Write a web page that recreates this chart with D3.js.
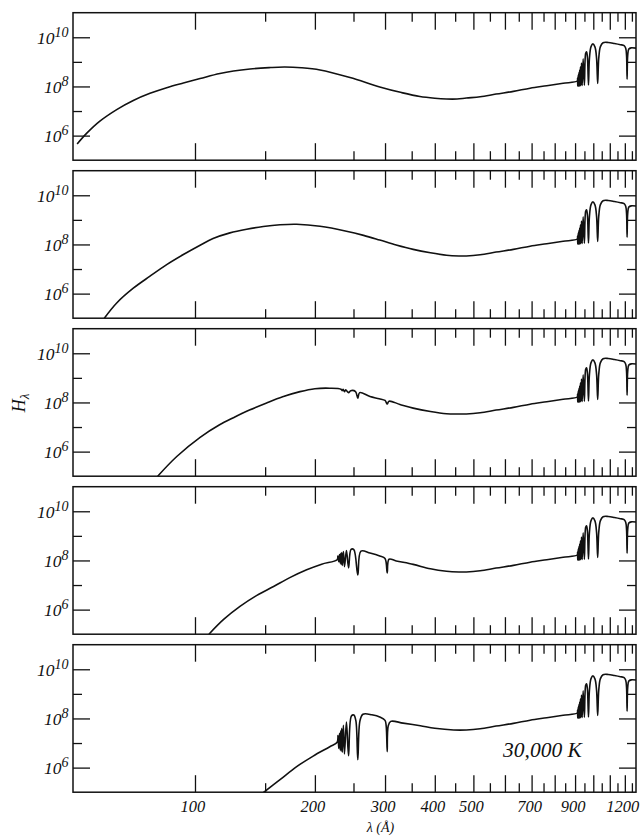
<!DOCTYPE html>
<html>
<head>
<meta charset="utf-8">
<script src="https://cdn.jsdelivr.net/npm/d3@7"></script>
<style>
  html, body { margin: 0; padding: 0; background: #fff; }
  svg { display: block; }
  text { font-family: "Liberation Serif", "Times New Roman", serif; font-style: italic; fill: #111; }
</style>
</head>
<body>
<svg id="chart" width="642" height="837"></svg>
<script>
// Emergent flux H_lambda of 30,000 K model atmospheres, five models stacked.
// Each series is a list of [wavelength in Angstrom, log10 H_lambda].

// x axis ticks
const xMajorTicks = [100, 200, 300, 400, 500, 600, 700, 800, 900, 1000, 1100, 1200];
const xMinorTicks = [150, 250, 350, 450, 550, 650, 750, 850, 950, 1050, 1150, 1250];
const xTickLabels = [100, 200, 300, 400, 500, 700, 900, 1200];

// y axis ticks (powers of ten)
const yMajorExponents = [6, 8, 10];
const yMinorExponents = [7, 9];

// short-wavelength part of each model (differs from panel to panel)
const panel1Uv = [
  [50.6, 5.66], [53.5, 6.10], [57.7, 6.59], [63.6, 7.06], [70.0, 7.43], [77.1, 7.72],
  [84.9, 7.95], [93.5, 8.14], [103, 8.32], [115.5, 8.53], [137.5, 8.71], [155, 8.77],
  [168, 8.79], [185, 8.76], [206, 8.67], [245, 8.36], [291, 7.98], [330, 7.75],
  [367, 7.59], [400, 7.52], [428, 7.49], [455, 7.49]
];
const panel2Uv = [
  [59.2, 5.0], [63.6, 5.62], [70.0, 6.22], [77.1, 6.71], [84.9, 7.18], [93.5, 7.59],
  [103, 7.97], [111, 8.24], [122.4, 8.47], [134.8, 8.62], [148.4, 8.73], [163.5, 8.80],
  [180, 8.82], [206, 8.74], [240, 8.54], [265, 8.37], [291, 8.18], [320, 7.98],
  [353, 7.80], [390, 7.66], [428, 7.56], [460, 7.53]
];
const panel3Uv = [
  [80.6, 5.0], [90, 5.80], [103, 6.58], [115, 7.08], [124.9, 7.38], [137, 7.69],
  [151.3, 7.98], [166, 8.23], [183.5, 8.44], [200, 8.56], [218, 8.58], [232.6, 8.54],
  [234.3, 8.48], [235.5, 8.53], [237.3, 8.44], [239, 8.51], [243, 8.40], [246, 8.48],
  [253, 8.44], [256.3, 8.17], [259, 8.40], [275, 8.24], [290, 8.15], [300, 8.08],
  [303.8, 7.94], [307, 8.05], [327, 7.92], [353, 7.77], [390, 7.63], [428, 7.54], [460, 7.53]
];
const panel4Uv = [
  [108.4, 5.0], [118, 5.60], [129.7, 6.13], [143, 6.58], [157.5, 6.94], [173, 7.30],
  [190.7, 7.62], [208, 7.85], [227.5, 8.03], [228.5, 8.18], [229.6, 7.95], [230.6, 8.24],
  [231.5, 7.90], [232.2, 8.28], [232.6, 7.85], [233.5, 8.32], [234.3, 7.80], [235.8, 8.36],
  [237.3, 7.75], [240, 8.40], [243, 7.70], [246.5, 8.45], [250.5, 8.44], [256.3, 7.41],
  [261, 8.38], [275, 8.30], [291, 8.18], [300, 8.08], [303.8, 7.49], [307, 8.05],
  [320, 7.98], [353, 7.84], [390, 7.66], [428, 7.56], [460, 7.53]
];
const panel5Uv = [
  [148.4, 4.98], [163.5, 5.51], [180, 6.04], [198, 6.47], [218, 6.85], [227.5, 7.03],
  [228.6, 7.30], [229.6, 6.78], [230.6, 7.40], [231.5, 6.72], [232.2, 7.50], [232.6, 6.68],
  [233.5, 7.60], [234.3, 6.62], [235.8, 7.72], [237.3, 6.56], [240, 7.85], [243, 6.48],
  [247, 8.10], [250.5, 8.14], [253.5, 7.90], [256.3, 6.32], [259.5, 7.90], [264, 8.17],
  [278, 8.15], [292, 8.05], [300, 7.92], [302, 7.70], [303.8, 6.65], [305.6, 7.70],
  [310, 7.88], [333, 7.81], [368, 7.70], [400, 7.60], [446, 7.53]
];

// shared long-wavelength continuum and the hydrogen Lyman series
const continuum = [
  [480, 7.53], [520, 7.58], [570, 7.69], [630, 7.80], [694, 7.93], [764, 8.03], [840, 8.13]
];
const lymanLines = [
  [911.5, 8.22], [913.0, 8.32], [914.0, 8.02], [915.2, 8.40], [916.0, 8.02], [917.2, 8.46],
  [918.1, 8.02], [919.4, 8.53], [920.6, 8.02], [922.0, 8.60], [923.2, 8.02], [924.7, 8.68],
  [926.2, 8.03], [928.4, 8.80], [930.7, 8.03], [934.0, 8.95], [937.8, 8.04], [943.0, 9.12],
  [949.7, 8.05], [957.0, 9.35], [962.0, 9.41], [967.0, 9.15], [972.5, 8.06], [978.0, 9.15],
  [987.0, 9.62], [998.0, 9.73], [1010, 9.60], [1019, 9.15], [1025.7, 8.12], [1032, 9.15],
  [1042, 9.62], [1058, 9.78], [1090, 9.79], [1130, 9.75], [1170, 9.70], [1195, 9.66],
  [1206, 9.55], [1212, 9.25], [1215.7, 8.30], [1220, 9.25], [1228, 9.52], [1245, 9.57],
  [1282, 9.56]
];

const panelUv = [panel1Uv, panel2Uv, panel3Uv, panel4Uv, panel5Uv];
const modelLabel = "30,000 K";

// ---- layout ----
const plotLeft = 73, plotRight = 636;
const panelTop0 = 12.7, panelStep = 158, panelH = 147.5;
const ink = "#111";

const svg = d3.select("#chart");
const x = d3.scaleLog().domain([49.4, 1280]).range([plotLeft, plotRight]);

const styleAxis = g => {
  g.select(".domain").remove();
  g.selectAll(".tick line").attr("stroke", ink).attr("stroke-width", 1.3);
  g.selectAll(".tick text").remove();
};

panelUv.forEach((uv, i) => {
  const top = panelTop0 + i * panelStep;
  const bottom = top + panelH;
  const y = d3.scaleLog().domain([1e5, 1e11]).range([bottom, top]);
  const g = svg.append("g");

  const clipId = "clip" + i;
  svg.append("clipPath").attr("id", clipId)
    .append("rect").attr("x", plotLeft).attr("y", top)
    .attr("width", plotRight - plotLeft).attr("height", panelH);

  // inward ticks on all four sides
  const major = xMajorTicks, minor = xMinorTicks;
  g.append("g").attr("transform", `translate(0,${bottom})`)
    .call(d3.axisBottom(x).tickValues(major).tickSize(-17).tickFormat("")).call(styleAxis);
  g.append("g").attr("transform", `translate(0,${bottom})`)
    .call(d3.axisBottom(x).tickValues(minor).tickSize(-9).tickFormat("")).call(styleAxis);
  g.append("g").attr("transform", `translate(0,${top})`)
    .call(d3.axisTop(x).tickValues(major).tickSize(-17).tickFormat("")).call(styleAxis);
  g.append("g").attr("transform", `translate(0,${top})`)
    .call(d3.axisTop(x).tickValues(minor).tickSize(-9).tickFormat("")).call(styleAxis);

  const yMaj = yMajorExponents.map(e => Math.pow(10, e));
  const yMin = yMinorExponents.map(e => Math.pow(10, e));
  g.append("g").attr("transform", `translate(${plotLeft},0)`)
    .call(d3.axisLeft(y).tickValues(yMaj).tickSize(-17).tickFormat("")).call(styleAxis);
  g.append("g").attr("transform", `translate(${plotLeft},0)`)
    .call(d3.axisLeft(y).tickValues(yMin).tickSize(-9).tickFormat("")).call(styleAxis);
  g.append("g").attr("transform", `translate(${plotRight},0)`)
    .call(d3.axisRight(y).tickValues(yMaj).tickSize(-17).tickFormat("")).call(styleAxis);
  g.append("g").attr("transform", `translate(${plotRight},0)`)
    .call(d3.axisRight(y).tickValues(yMin).tickSize(-9).tickFormat("")).call(styleAxis);

  // power-of-ten labels
  yMajorExponents.forEach(e => {
    const t = g.append("text")
      .attr("x", plotLeft - 4.5)
      .attr("y", y(Math.pow(10, e)) + 6.5)
      .attr("text-anchor", "end")
      .style("font-size", "17.5px");
    t.append("tspan").text("10");
    t.append("tspan").attr("dy", -7).style("font-size", "14px").text(String(e));
  });

  // frame
  g.append("rect")
    .attr("x", plotLeft).attr("y", top)
    .attr("width", plotRight - plotLeft).attr("height", panelH)
    .attr("fill", "none").attr("stroke", ink).attr("stroke-width", 1.5);

  // spectrum
  const series = uv.concat(continuum, lymanLines);
  const line = d3.line()
    .x(d => x(d[0]))
    .y(d => y(Math.pow(10, d[1])))
    .curve(d3.curveCatmullRom.alpha(0.5));
  g.append("path")
    .datum(series)
    .attr("clip-path", `url(#${clipId})`)
    .attr("d", line)
    .attr("fill", "none")
    .attr("stroke", ink)
    .attr("stroke-width", 1.6)
    .attr("stroke-linejoin", "round");

  if (i === panelUv.length - 1) {
    g.append("text")
      .attr("x", 503).attr("y", 757)
      .style("font-size", "21.5px")
      .text(modelLabel);

    g.selectAll(".xlabel").data(xTickLabels).enter().append("text")
      .attr("class", "xlabel")
      .attr("x", d => x(d) - 2)
      .attr("y", 812)
      .attr("text-anchor", "middle")
      .style("font-size", "16.5px")
      .text(d => d);
  }
});

// axis titles
svg.append("text")
  .attr("x", 380.5).attr("y", 832)
  .attr("text-anchor", "middle")
  .style("font-size", "14px")
  .text("λ (Å)");

const yTitle = svg.append("text")
  .attr("transform", "translate(25,403) rotate(-90)")
  .attr("text-anchor", "middle")
  .style("font-size", "18px");
yTitle.append("tspan").text("H");
yTitle.append("tspan").attr("dy", 4).style("font-size", "13px").text("λ");
</script>
</body>
</html>
